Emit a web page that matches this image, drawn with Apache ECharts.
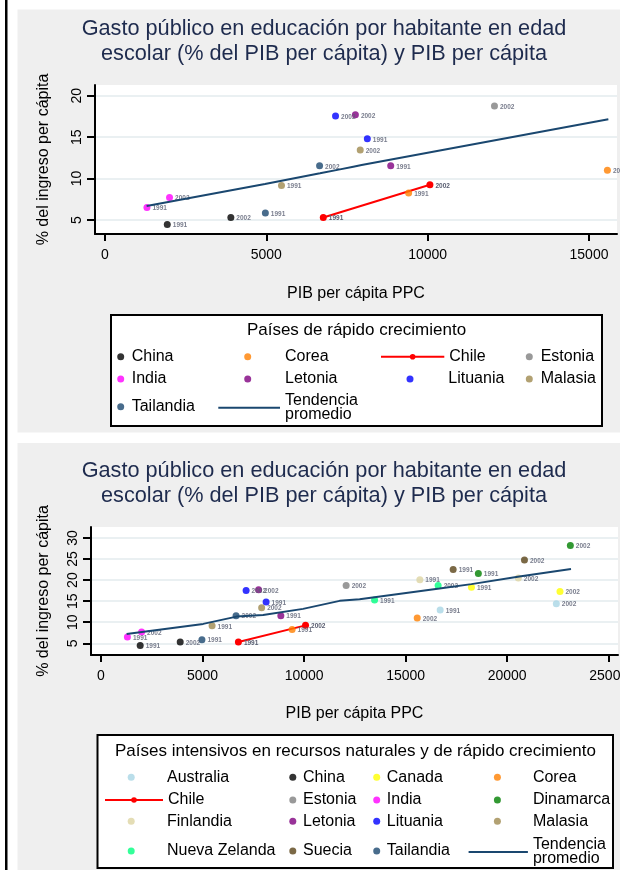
<!DOCTYPE html>
<html><head><meta charset="utf-8">
<script src="https://cdn.jsdelivr.net/npm/echarts@6/dist/echarts.min.js"></script>
<style>html,body{margin:0;padding:0;background:#fff}#c{width:620px;height:870px}</style>
</head><body><div id="c"></div>
<script>
// ---------------- DATA ----------------
const years = ['1991', '2002'];
const countries = ['Australia','China','Canada','Corea','Chile','Estonia','India','Dinamarca','Finlandia','Letonia','Lituania','Malasia','Nueva Zelanda','Suecia','Tailandia'];
const gdp1991 = [16700, 1930, 18240, 9410, 6765, null, 1300, 18580, 15700, 8855, 8130, 5470, 13470, 17340, 4970];
const edu1991 = [12.9, 4.45, 18.3, 8.25, 5.3, null, 6.5, 21.6, 20.1, 11.55, 14.8, 9.15, 15.3, 22.5, 5.85];
const gdp2002 = [22420, 3900, 22600, 15570, 10070, 12070, 2000, 23110, 20550, 7760, 7145, 7910, 16600, 20850, 6650];
const edu2002 = [14.4, 5.3, 17.3, 11.0, 9.25, 18.75, 7.7, 28.2, 20.5, 17.7, 17.55, 13.45, 18.7, 24.8, 11.55];
const fastCountries = ['China','Corea','Chile','Estonia','India','Letonia','Lituania','Malasia','Tailandia'];
const trendFastX = [1290, 4958, 6663, 7282, 7695, 7953, 15600];
const trendFastY = [6.68, 9.34, 10.63, 11.11, 11.43, 11.63, 17.15];
const trendAllX = [1262, 5031, 6671, 7981, 9948, 11750, 12734, 16667, 18240, 20600, 23142];
const trendAllY = [7.21, 9.6, 11.33, 11.74, 13.17, 15.07, 15.47, 18.0, 19.05, 20.86, 22.62];
const xTicksFast = [0, 5000, 10000, 15000];
const yTicksFast = [5, 10, 15, 20];
const xTicksAll = [0, 5000, 10000, 15000, 20000, 25000];
const yTicksAll = [5, 10, 15, 20, 25, 30];
const titleText = 'Gasto público en educación por habitante en edad\nescolar (% del PIB per cápita) y PIB per cápita';
const legendTitleFast = 'Países de rápido crecimiento';
const legendTitleAll = 'Países intensivos en recursos naturales y de rápido crecimiento';
const trendName = 'Tendencia promedio';

// ---------------- STYLE ----------------
const FONT = '"Liberation Sans", Arial, Helvetica, sans-serif';
const colorOf = {
  'Australia':'#a9d6e5','China':'#000000','Canada':'#ffff00','Corea':'#ff8000','Chile':'#ff0000',
  'Estonia':'#808080','India':'#ff00ff','Dinamarca':'#008000','Finlandia':'#ddd5a3','Letonia':'#800080',
  'Lituania':'#0000ff','Malasia':'#9f8a4f','Nueva Zelanda':'#00ff80','Suecia':'#5a4318','Tailandia':'#1a476f'
};
const trendColor = '#1a476f';

function pointsOf(name) {
  const i = countries.indexOf(name);
  const pts = [];
  if (gdp1991[i] != null) pts.push([gdp1991[i], edu1991[i], years[0]]);
  if (gdp2002[i] != null) pts.push([gdp2002[i], edu2002[i], years[1]]);
  return pts;
}
function countrySeries(name, idx) {
  const isLine = name === 'Chile';
  const s = {
    name, type: isLine ? 'line' : 'scatter', xAxisIndex: idx, yAxisIndex: idx,
    data: pointsOf(name), symbol: 'circle', symbolSize: 7, showSymbol: true,
    itemStyle: { color: colorOf[name] },
    label: { show: true, position: 'right', distance: 2, offset: [0, 1], formatter: p => p.data[2],
             fontSize: 6.5, fontWeight: 'bold', color: '#585d70', fontFamily: FONT },
    z: 3, animation: false
  };
  if (isLine) s.lineStyle = { color: colorOf[name], width: 2 };
  return s;
}
function trendSeries(xs, ys, idx) {
  return { name: trendName, type: 'line', xAxisIndex: idx, yAxisIndex: idx,
    data: xs.map((x, i) => [x, ys[i]]), showSymbol: false, symbol: 'none',
    lineStyle: { color: trendColor, width: 2 }, itemStyle: { color: trendColor }, z: 4, animation: false };
}
function xAxisOf(idx, min, max, ticks, gap) {
  return { type: 'value', gridIndex: idx, min, max,
    name: 'PIB per cápita PPC', nameLocation: 'middle', nameGap: gap,
    nameTextStyle: { fontSize: 16, color: '#000', fontFamily: FONT },
    axisLine: { onZero: false, lineStyle: { color: '#000', width: 2 } },
    axisTick: { customValues: ticks, length: 7, lineStyle: { color: '#000', width: 2 } },
    axisLabel: { customValues: ticks, margin: 14, fontSize: 14, color: '#000', fontFamily: FONT, formatter: v => String(v), hideOverlap: false },
    splitLine: { show: false } };
}
function yAxisOf(idx, min, max, ticks, gap) {
  return { type: 'value', gridIndex: idx, min, max,
    name: '% del ingreso per cápita', nameLocation: 'middle', nameGap: gap,
    nameTextStyle: { fontSize: 16, color: '#000', fontFamily: FONT },
    axisLine: { onZero: false, lineStyle: { color: '#000', width: 2 } },
    axisTick: { customValues: ticks, length: 8, lineStyle: { color: '#000', width: 2 } },
    axisLabel: { customValues: ticks, rotate: 90, margin: 11, fontSize: 14, color: '#000', fontFamily: FONT, formatter: v => String(v) },
    splitLine: { show: true, lineStyle: { color: '#e3ebee', width: 1.5 } } };
}
// cfg: [boundingLeft, itemWidth]; circle items are laid out by their dot's left edge
function legendItem(name, left, rowCenter, width) {
  const isTrend = name === trendName;
  const isLine = name === 'Chile';
  let item = name;
  if (isTrend) item = { name, icon: 'rect' };
  else if (!isLine) item = { name, icon: 'circle' };
  return {
    data: [item],
    left, top: isTrend ? rowCenter - 14 : rowCenter - 8, padding: 0,
    itemWidth: width, itemHeight: isTrend ? 2 : 7, selectedMode: false,
    formatter: n => n === trendName ? 'Tendencia\npromedio' : n,
    textStyle: { fontSize: 16, lineHeight: isTrend ? 14 : 16, color: '#000', fontFamily: FONT }
  };
}
// place an item by its key centre (dots) or key start (lines) and its text start
function placeItem(name, keyPos, textStart, rowCenter) {
  const isKeyLine = name === trendName || name === 'Chile';
  if (isKeyLine) return legendItem(name, keyPos, rowCenter, textStart - 5 - keyPos);
  const w = 2 * (textStart - 5 - keyPos);
  return legendItem(name, keyPos - 3.5, rowCenter, w);
}

// ---------------- LEGEND LAYOUT ----------------
const legends = [];
const tr = [356.7, 379, 406.7];
// per column: [dot centre, line start, text start]
const tc = [[120.7, 114, 131.7], [247.7, 218.3, 285], [410, 380, 448.3], [529.3, 523, 540.7]];
const topItems = [['China','Corea','Chile','Estonia'], ['India','Letonia','Lituania','Malasia'], ['Tailandia', trendName]];
topItems.forEach((row, r) => row.forEach((n, c) => {
  const isKeyLine = n === trendName || n === 'Chile';
  legends.push(placeItem(n, isKeyLine ? tc[c][1] : tc[c][0], tc[c][2], tr[r]));
}));
const br = [777.3, 800, 821.3, 851];
const bc = [[131.2, 104, 167], [292.8, 287, 303], [376.7, 371, 386.8], [497.4, 468.6, 532.9]];
const botItems = [['Australia','China','Canada','Corea'], ['Chile','Estonia','India','Dinamarca'],
                  ['Finlandia','Letonia','Lituania','Malasia'], ['Nueva Zelanda','Suecia','Tailandia', trendName]];
botItems.forEach((row, r) => row.forEach((n, c) => {
  const isKeyLine = n === trendName || n === 'Chile';
  legends.push(placeItem(n, isKeyLine ? bc[c][1] : bc[c][0], bc[c][2], br[r]));
}));

const series = [];
fastCountries.forEach(n => series.push(countrySeries(n, 0)));
series.push(trendSeries(trendFastX, trendFastY, 0));
countries.forEach(n => series.push(countrySeries(n, 1)));
series.push(trendSeries(trendAllX, trendAllY, 1));

function textEl(text, x, y, size, lh, color) {
  return { type: 'text', z: 10, x, y,
    style: { text, fontSize: size, lineHeight: lh, fontFamily: FONT, fill: color, align: 'center', verticalAlign: 'top' } };
}

const option = {
  animation: false,
  backgroundColor: '#ffffff',
  graphic: [
    { type: 'rect', z: -20, shape: { x: 17.5, y: 9.5, width: 603, height: 423 }, style: { fill: '#efefef' } },
    { type: 'rect', z: -20, shape: { x: 17.5, y: 443, width: 603, height: 427 }, style: { fill: '#efefef' } },
    { type: 'rect', z: -19, shape: { x: 5, y: 0, width: 2.5, height: 870 }, style: { fill: '#000' } },
    { type: 'rect', z: -5, shape: { x: 111, y: 315, width: 491, height: 111 }, style: { fill: '#fff', stroke: '#000', lineWidth: 2 } },
    { type: 'rect', z: -5, shape: { x: 97.5, y: 735, width: 515.5, height: 133 }, style: { fill: '#fff', stroke: '#000', lineWidth: 2 } },
    textEl(titleText, 324, 17, 21.7, 25, '#1e2b4e'),
    textEl(titleText, 324, 459, 21.7, 25, '#1e2b4e'),
    textEl(legendTitleFast, 356.5, 322, 17, 17, '#000'),
    textEl(legendTitleAll, 355.5, 742.5, 17, 17, '#000')
  ],
  grid: [
    { left: 95, top: 85, width: 522, height: 149, show: true, backgroundColor: '#fff', borderWidth: 0, containLabel: false, outerBoundsMode: 'none' },
    { left: 91, top: 527, width: 527, height: 128, show: true, backgroundColor: '#fff', borderWidth: 0, containLabel: false, outerBoundsMode: 'none' }
  ],
  xAxis: [ xAxisOf(0, -310, 15868, xTicksFast, 51.7), xAxisOf(1, -492, 25456, xTicksAll, 50.7) ],
  yAxis: [ yAxisOf(0, 3.31, 21.29, yTicksFast, 43.5), yAxisOf(1, 2.21, 32.62, yTicksAll, 39.5) ],
  legend: legends,
  series
};
const chart = echarts.init(document.getElementById('c'));
chart.setOption(option);
</script></body></html>
